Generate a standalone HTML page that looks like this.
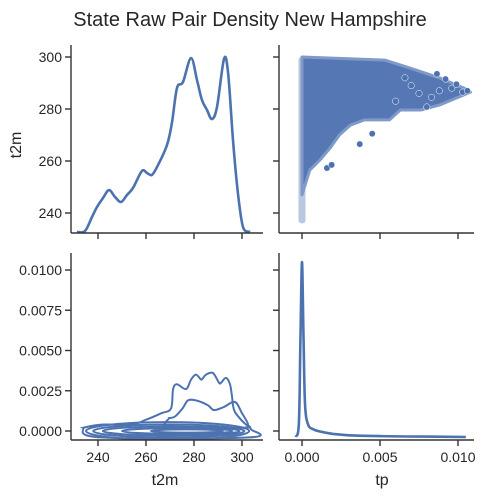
<!DOCTYPE html>
<html><head><meta charset="utf-8"><style>
body{margin:0;background:#fff}
svg{display:block;font-family:"Liberation Sans","DejaVu Sans",sans-serif}
text{fill:#262626}
</style></head><body>
<svg id="c" width="500" height="500" viewBox="0 0 500 500">
<text x="250" y="26" text-anchor="middle" font-size="20">State Raw Pair Density New Hampshire</text>
<text transform="translate(21,145) rotate(-90)" text-anchor="middle" font-size="16">t2m</text>
<text x="165" y="485" text-anchor="middle" font-size="16">t2m</text>
<text x="382" y="485" text-anchor="middle" font-size="16">tp</text>
</svg>
<script>
// Diagonal KDE of t2m (relative density 0..1)
const kdeT2m=[231.25,234.6,237.5,239.6,242.1,244.6,247.1,249.6,252.1,254.6,258.3,260.4,262.5,265,268.75,270.8,272.9,275.4,278.75,281.25,283.3,285.4,287.5,289.6,292.5,294.2,296.25,298.3,300.4,303.3];
const kdeT2mDen=[0.006,0.011,0.091,0.148,0.199,0.244,0.205,0.176,0.216,0.256,0.352,0.341,0.330,0.386,0.500,0.625,0.824,0.858,0.994,0.869,0.756,0.699,0.648,0.716,0.989,0.909,0.528,0.227,0.034,0.006];
// Diagonal KDE of tp
const kdeTp=[-0.0004,-0.0002,-0.0001,0,0.0001,0.0002,0.0004,0.0007,0.001,0.0015,0.002,0.003,0.005,0.008,0.0105];
const kdeTpDen=[0.0,0.08,0.55,1.0,0.55,0.18,0.07,0.045,0.035,0.025,0.018,0.01,0.005,0.002,0.0];
// Scatter envelope (tp, t2m) of dense region
const envTp=[0,0.0053,0.0069,0.0088,0.0104,0.0108,0.0088,0.0076,0.0063,0.0056,0.004,0.0031,0.0024,0.0018,0.00115,0.0005,0.0002,0];
const envT2m=[300,298.8,295.8,292,288,286.5,281.5,279.6,279.6,275.8,275.8,273.8,270,265,260.4,256.5,250.8,247];
// Sparse outer points
const ptTp=[0.00865,0.0092,0.0096,0.0103,0.0088,0.0080,0.0037,0.0016,0.0019,0.0075,0.0070,0.0083,0.0099,0.0106,0.0066,0.0060,0.0045];
const ptT2m=[293.5,291.5,288,286.5,287,280.8,266.5,257.3,258.5,286,289,284.5,289.5,287,292,283,270.5];
// KDE contours (t2m, tp)
const c1T=[233.7,241.3,253.8,260.0,266.3,270.4,271.3,272.9,276.7,278.8,280.8,282.9,283.8,285.0,287.9,290.4,291.3,293.3,295.0,295.8,296.7,299.6,301.7,303.8,302.9,241.3,233.7];
const c1P=[0.0002,0.0004,0.0004,0.0007,0.0011,0.0014,0.0026,0.0029,0.0026,0.0032,0.0035,0.0032,0.0033,0.0035,0.0036,0.0030,0.0030,0.0033,0.0029,0.0022,0.0013,0.0007,0.0004,0.0001,-0.0004,-0.0004,0.0002];
const c2T=[269.6,272.1,275.2,277.5,280.8,285.8,288.3,292.5,297.1,300.0,302.5,300.0,270.0,269.6];
const c2P=[0.0008,0.0009,0.0014,0.0019,0.0019,0.0016,0.0013,0.0015,0.0018,0.0011,0.0004,0.0002,0.0002,0.0008];
const rings=[[235,303,0.00055],[238,301,0.0004],[242,299,0.00028],[250,296,0.00018],[262,292,0.0001]];

const svg=document.getElementById('c');
const NS='http://www.w3.org/2000/svg';
const BLUE='#4c72b0';
function el(t,a,p){const e=document.createElementNS(NS,t);for(const k in a)e.setAttribute(k,a[k]);(p||svg).appendChild(e);return e;}
const xT=v=>98+(v-240)*2.4;
const yT=v=>213-(v-240)*(156/60);
const xP=v=>302+v*15600;
const yP=v=>431-v*16100;
const yD1=d=>233-d*176;
const yD2=d=>437-d*175;

function pathOf(xs,ys,fx,fy,close){return xs.map((v,i)=>(i?'L':'M')+fx(v).toFixed(1)+','+fy(ys[i]).toFixed(1)).join('')+(close?'Z':'');}
function smooth(xs,ys,fx,fy,close){
  const p=xs.map((v,i)=>[fx(v),fy(ys[i])]);let d='M'+p[0][0].toFixed(1)+','+p[0][1].toFixed(1);
  for(let i=0;i<p.length-1;i++){const p0=p[i-1]||p[i],p1=p[i],p2=p[i+1],p3=p[i+2]||p2;
    d+='C'+(p1[0]+(p2[0]-p0[0])/6).toFixed(1)+','+(p1[1]+(p2[1]-p0[1])/6).toFixed(1)+' '+(p2[0]-(p3[0]-p1[0])/6).toFixed(1)+','+(p2[1]-(p3[1]-p1[1])/6).toFixed(1)+' '+p2[0].toFixed(1)+','+p2[1].toFixed(1);}
  return d+(close?'Z':'');}

const defs=el('defs',{});
[['cl1',71,45,192,188],['cl2',279,45,195,188],['cl3',71,253,192,187],['cl4',279,253,195,187]].forEach(c=>{const cp=el('clipPath',{id:c[0]},defs);el('rect',{x:c[1],y:c[2],width:c[3],height:c[4]},cp);});

// Panel 1
let g=el('g',{'clip-path':'url(#cl1)'});
const k1=el('path',{d:smooth(kdeT2m,kdeT2mDen,xT,yD1),fill:'none',stroke:BLUE,'stroke-width':2.6},g);



// Panel 2
g=el('g',{'clip-path':'url(#cl2)'});
el('rect',{x:298.5,y:yT(300),width:7,height:yT(236)-yT(300),fill:'#b9c7e0',rx:3},g);
const env=el('path',{d:pathOf(envTp,envT2m,xP,yT,true),fill:'#5577b4',stroke:'#7f9ac8','stroke-width':3,'stroke-linejoin':'round'},g);


ptTp.forEach((v,i)=>{const c=el('circle',{cx:xP(v),cy:yT(ptT2m[i]),r:3.2,fill:BLUE,stroke:'#fff','stroke-width':0.5},g);
  
  });

// Panel 3
g=el('g',{'clip-path':'url(#cl3)',fill:'none',stroke:BLUE,'stroke-width':2});
const co1=el('path',{d:smooth(c1T,c1P,xT,yP,true)},g);


const co2=el('path',{d:smooth(c2T,c2P,xT,yP,true)},g);


rings.forEach(r=>{const e=el('ellipse',{cx:(xT(r[0])+xT(r[1]))/2,cy:yP(0),rx:(xT(r[1])-xT(r[0]))/2,ry:yP(-r[2])-yP(0)},g);
  
  });

// Panel 4
g=el('g',{'clip-path':'url(#cl4)'});
const k2=el('path',{d:smooth(kdeTp,kdeTpDen,xP,yD2),fill:'none',stroke:BLUE,'stroke-width':2.6},g);



// Axes
const AX='#333';
function axisL(x,y0,y1,ticks,f,labels){el('line',{x1:x,y1:y0,x2:x,y2:y1,stroke:AX,'stroke-width':1.4});
  ticks.forEach((t,i)=>{el('line',{x1:x-6,y1:f(t),x2:x,y2:f(t),stroke:AX,'stroke-width':1.4});
    if(labels){const tx=el('text',{x:x-9,y:f(t)+5,'text-anchor':'end','font-size':14});tx.textContent=labels[i];}});}
function axisB(y,x0,x1,ticks,f,labels){el('line',{x1:x0,y1:y,x2:x1,y2:y,stroke:AX,'stroke-width':1.4});
  ticks.forEach((t,i)=>{el('line',{x1:f(t),y1:y,x2:f(t),y2:y+6,stroke:AX,'stroke-width':1.4});
    if(labels){const tx=el('text',{x:f(t),y:y+22,'text-anchor':'middle','font-size':14});tx.textContent=labels[i];}});}
const t2mTicks=[240,260,280,300], t2mLabels=['240','260','280','300'];
const tpYTicks=[0,0.0025,0.005,0.0075,0.01], tpYLabels=['0.0000','0.0025','0.0050','0.0075','0.0100'];
const tpXTicks=[0,0.005,0.01], tpXLabels=['0.000','0.005','0.010'];
axisL(71,45,233,t2mTicks,yT,t2mLabels); axisB(233,71,263,t2mTicks,xT,null);
axisL(279,45,233,t2mTicks,yT,null); axisB(233,279,474,tpXTicks,xP,null);
axisL(71,253,440,tpYTicks,yP,tpYLabels); axisB(440,71,263,t2mTicks,xT,t2mLabels);
axisL(279,253,440,tpYTicks,yP,null); axisB(440,279,474,tpXTicks,xP,tpXLabels);
</script>
</body></html>
